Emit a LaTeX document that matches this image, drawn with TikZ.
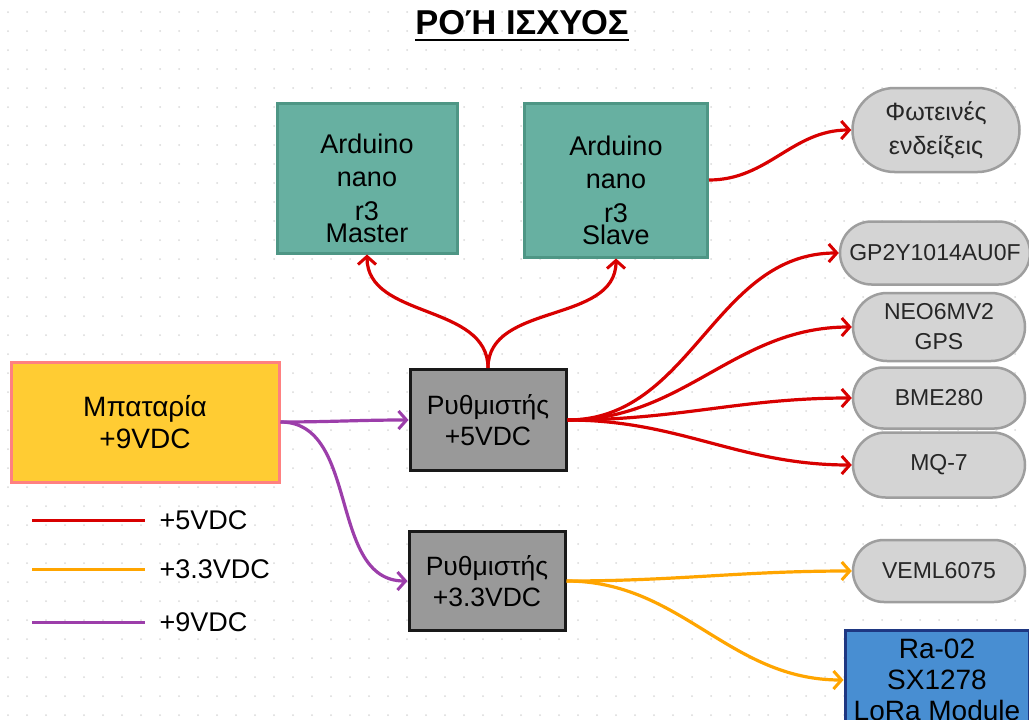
\documentclass[tikz,border=0pt]{standalone}
\usepackage{fontspec}
\setmainfont{Liberation Sans}
\usetikzlibrary{arrows.meta,shapes.misc}
\newsavebox{\titlebox}
\newcommand{\thickul}[1]{\sbox{\titlebox}{#1}\rlap{\raisebox{-6.5pt}{\rule{\wd\titlebox}{2.5pt}}}\usebox{\titlebox}}
\definecolor{boardteal}{RGB}{103,176,161}
\definecolor{boardedge}{RGB}{78,150,133}
\definecolor{partgray}{RGB}{212,212,212}
\definecolor{partedge}{RGB}{158,158,158}
\definecolor{battyellow}{RGB}{255,204,51}
\definecolor{battedge}{RGB}{255,128,128}
\definecolor{reggray}{RGB}{153,153,153}
\definecolor{lorablue}{RGB}{72,142,210}
\definecolor{loraedge}{RGB}{30,55,130}
\definecolor{wirered}{RGB}{216,0,0}
\definecolor{wireorange}{RGB}{255,165,0}
\definecolor{wirepurple}{RGB}{156,62,170}
\definecolor{gridgray}{RGB}{218,218,218}
\tikzset{
	board/.style={draw=boardedge, fill=boardteal, line width=3pt, minimum width=180pt, minimum height=150pt, inner sep=0pt, align=center, font=\fontsize{27}{33.5}\selectfont},
	pill/.style={rounded rectangle, draw=partedge, fill=partgray, line width=2.5pt, minimum width=172pt, minimum height=65pt, inner sep=0pt, align=center, text=black!85, font=\fontsize{23}{30}\selectfont},
	battery/.style={draw=battedge, fill=battyellow, line width=3pt, minimum width=268pt, minimum height=120pt, align=center, font=\fontsize{28}{32}\selectfont},
	regbox/.style={draw=black!90, fill=reggray, line width=3pt, minimum width=156pt, minimum height=101pt, align=center, font=\fontsize{26.5}{31}\selectfont},
	lora/.style={draw=loraedge, fill=lorablue, line width=3pt, minimum width=184pt, minimum height=100pt, inner sep=0pt, align=center, font=\fontsize{28}{31}\selectfont},
	barb/.style={-{Straight Barb[length=8pt,width=18pt,line width=3pt]}},
	wire5/.style={draw=wirered, line width=3.2pt, barb},
	wire33/.style={draw=wireorange, line width=3.2pt, barb},
	wire9/.style={draw=wirepurple, line width=3.2pt, barb},
	legendtext/.style={font=\fontsize{27}{32}\selectfont, inner sep=0pt}
}

\begin{document}
\begin{tikzpicture}[x=1pt,y=-1pt]
	%%%%% START %%%%%
	\useasboundingbox[fill=white] (0,0) rectangle (1029,720);
	
	% dotted sheet
	\foreach \gx in {8,27,...,1029}
		\foreach \gy in {12,31,...,720}
			\fill[gridgray] (\gx,\gy) circle (1pt);
	
	\node[font=\fontsize{34.5}{40}\selectfont\bfseries] (title) at (522,26) {\thickul{ΡΟΉ ΙΣΧΥΟΣ}};
	
	\node[board] (master) at (367,178) {Arduino\rule{0pt}{40pt}\\nano\\r3\\[-11.5pt]Master};
	\node[board, minimum width=183pt, minimum height=154pt] (slave) at (616,180) {Arduino\rule{0pt}{40pt}\\nano\\r3\\[-11.5pt]Slave};
	
	\node[pill, minimum width=167pt, minimum height=84pt, font=\fontsize{25}{34}\selectfont] (leds) at (936,130) {Φωτεινές\\ενδείξεις};
	\node[pill, minimum width=190pt, minimum height=63pt] (dust) at (935,253) {GP2Y1014AU0F};
	\node[pill, minimum height=68pt] (gps) at (939,327) {NEO6MV2\\GPS};
	\node[pill, minimum height=61pt] (bme) at (939,398) {BME280};
	\node[pill] (mq) at (939,465) {MQ-7};
	\node[pill, minimum height=62pt] (veml) at (939,571) {VEML6075};
	\node[lora] (lora) at (937,680) {Ra-02\\SX1278\\LoRa Module};
	
	\node[battery] (batt) at (145,422) {Μπαταρία\\+9VDC};
	\node[regbox] (reg5) at (488,420) {Ρυθμιστής\\+5VDC};
	\node[regbox, minimum height=99pt] (reg33) at (487,581) {Ρυθμιστής\\+3.3VDC};
	
	% power lines
	\draw[wire9] (batt.east) to[out=0,in=180] (reg5.west);
	\draw[wire9] (batt.east) to[out=0,in=180] (reg33.west);
	\draw[wire5] (reg5.north) to[out=90,in=-90] (master.south);
	\draw[wire5] (reg5.north) to[out=90,in=-90] (slave.south);
	\draw[wire5] (slave.east) to[out=0,in=180] (leds.west);
	\foreach \dev in {dust,gps,bme,mq}
		\draw[wire5] (reg5.east) to[out=0,in=180] (\dev.west);
	\draw[wire33] (reg33.east) to[out=0,in=180] (veml.west);
	\draw[wire33] (reg33.east) to[out=0,in=180] (lora.west);
	
	% legend
	\foreach \col/\lab/\yy [count=\i] in {wirered/+5VDC/520, wireorange/+3.3VDC/569, wirepurple/+9VDC/622}
		\draw[draw=\col, line width=3pt] (32,\yy) -- (145,\yy) node[legendtext, anchor=west, xshift=13pt] (leg\i) {\lab};
	
	%%%%% END %%%%%
\end{tikzpicture}
\end{document}
